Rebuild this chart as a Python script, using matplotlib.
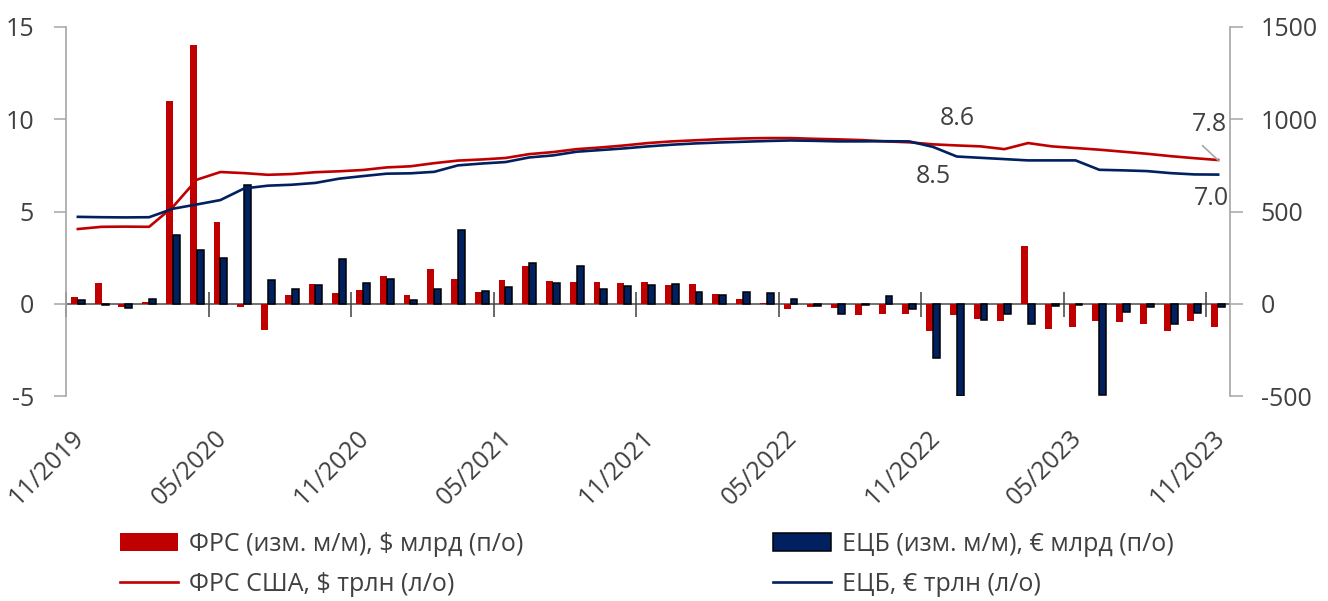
import matplotlib
matplotlib.use("Agg")
import matplotlib.pyplot as plt
import matplotlib.transforms as mtransforms
from matplotlib.patches import Patch
from matplotlib.lines import Line2D
import numpy as np

plt.rcParams['font.family'] = ['Open Sans', 'DejaVu Sans']
plt.rcParams['axes.unicode_minus'] = False

# ---- data ----
tick_labels = ["11/2019", "05/2020", "11/2020", "05/2021", "11/2021",
               "05/2022", "11/2022", "05/2023", "11/2023"]

fed_change = [38, 115, -18, 10, 1100, 1405, 445, -18, -140, 47,
              108, 58, 76, 152, 47, 190, 136, 65, 127, 204,
              123, 116, 119, 112, 116, 100, 108, 54, 25, 5,
              -30, -20, -25, -63, -54, -53, -148, -60, -81, -96,
              313, -139, -128, -96, -99, -108, -146, -96, -125]

ecb_change = [20, -5, -25, 25, 370, 290, 250, 645, 128, 81,
              99, 245, 110, 134, 22, 81, 400, 67, 92, 220,
              112, 206, 81, 96, 100, 105, 63, 49, 62, 60,
              27, -12, -56, -9, 42, -31, -296, -500, -88, -53,
              -108, -14, -9, -495, -47, -20, -108, -50, -16]

fed_total = [4.05, 4.17, 4.18, 4.17, 5.25, 6.72, 7.14, 7.08, 6.99, 7.03,
             7.13, 7.18, 7.25, 7.39, 7.45, 7.62, 7.76, 7.82, 7.90, 8.11,
             8.22, 8.38, 8.47, 8.58, 8.71, 8.80, 8.86, 8.92, 8.96, 8.98,
             8.98, 8.94, 8.91, 8.87, 8.80, 8.75, 8.64, 8.58, 8.53, 8.38,
             8.71, 8.53, 8.44, 8.35, 8.24, 8.13, 8.00, 7.89, 7.79]

ecb_total = [4.71, 4.69, 4.68, 4.69, 5.15, 5.38, 5.62, 6.25, 6.40, 6.45,
             6.55, 6.78, 6.92, 7.05, 7.07, 7.15, 7.50, 7.60, 7.68, 7.93,
             8.04, 8.24, 8.33, 8.42, 8.53, 8.62, 8.69, 8.74, 8.78, 8.82,
             8.85, 8.83, 8.80, 8.80, 8.81, 8.80, 8.50, 7.98, 7.91, 7.84,
             7.77, 7.77, 7.77, 7.26, 7.23, 7.19, 7.08, 7.01, 7.00]

label_every = 6

# ---- style ----
RED = "#C00000"
NAVY = "#002060"
TXT = "#404040"
GRID = "#A6A6A6"
FS = 18

n = len(fed_change)
x = np.arange(n)

fig = plt.figure(figsize=(13.28, 6.01), dpi=100)
ax = fig.add_axes([66 / 1328, 1 - 396 / 601, (1230 - 66) / 1328, (396 - 27) / 601])
ax2 = ax.twinx()

# bars on right axis
w = 0.29
ax.bar(x - w / 2, fed_change, width=w, color=RED, linewidth=0, zorder=2)
ax.bar(x + w / 2, ecb_change, width=w, color=NAVY, edgecolor="black",
       linewidth=1.1, zorder=2)
ax.set_ylim(-500, 1500)
ax.set_yticks([-500, 0, 500, 1000, 1500])
ax.set_xlim(-0.5, n - 0.5)

ax.yaxis.tick_right()
ax.tick_params(axis='y', which='both', direction='out', length=9, width=1.1,
               color=GRID, labelcolor=TXT, labelsize=FS, pad=13)
ax.spines['top'].set_visible(False)
for s in ['left', 'right']:
    ax.spines[s].set_color(GRID)
    ax.spines[s].set_linewidth(1.2)
ax.spines['bottom'].set_position(('data', 0))
ax.spines['bottom'].set_color("#595959")
ax.spines['bottom'].set_linewidth(1.2)
ax.spines['bottom'].set_zorder(1)

ax.set_xticks(np.arange(0, n, label_every) - 0.5)
ax.set_xticklabels([])
ax.tick_params(axis='x', direction='inout', length=18, width=1.1, color="#404040")

# lines on left axis
ax2.plot(x, fed_total, color=RED, linewidth=1.9, zorder=3)
ax2.plot(x, ecb_total, color=NAVY, linewidth=1.9, zorder=3)
ax2.set_ylim(-5, 15)
ax2.set_yticks([-5, 0, 5, 10, 15])
ax2.yaxis.tick_left()
ax2.yaxis.set_label_position('left')
ax2.tick_params(axis='y', direction='out', length=9, width=1.1,
                color=GRID, labelcolor=TXT, labelsize=FS, pad=14)
for s in ['top', 'bottom', 'left', 'right']:
    ax2.spines[s].set_visible(False)

# category labels along the bottom
trans = mtransforms.blended_transform_factory(ax.transData, ax.transAxes)
for k, lab in enumerate(tick_labels):
    ax.text(k * label_every - 0.25, -0.079, lab, transform=trans, rotation=45,
            ha='right', va='top', rotation_mode='anchor', fontsize=FS, color=TXT)

# value annotations
ax2.text(37.04, 10.03, "8.6", ha='center', va='center', fontsize=FS, color=TXT)
ax2.text(36.03, 6.88, "8.5", ha='center', va='center', fontsize=FS, color=TXT)
ax2.text(47.65, 9.70, "7.8", ha='center', va='center', fontsize=FS, color=TXT)
ax2.text(47.73, 5.69, "7.0", ha='center', va='center', fontsize=FS, color=TXT)
ax2.plot([47.35, 48.0], [8.56, 7.78], color=GRID, linewidth=1.2, zorder=4)

# legends
h_fed_bar = Patch(facecolor=RED, edgecolor=RED, linewidth=0)
h_fed_line = Line2D([], [], color=RED, linewidth=1.9)
h_ecb_bar = Patch(facecolor=NAVY, edgecolor="black", linewidth=1.1)
h_ecb_line = Line2D([], [], color=NAVY, linewidth=1.9)

common = dict(frameon=False, fontsize=FS, handlelength=2.3, handleheight=0.75,
              handletextpad=0.45, labelspacing=0.6, borderpad=0, borderaxespad=0,
              loc='upper left', labelcolor=TXT)
leg1 = fig.legend([h_fed_bar, h_fed_line],
                  ["ФРС (изм. м/м), $ млрд (п/о)", "ФРС США, $ трлн (л/о)"],
                  bbox_to_anchor=(120 / 1328, 1 - 532 / 601), **common)
leg2 = fig.legend([h_ecb_bar, h_ecb_line],
                  ["ЕЦБ (изм. м/м), € млрд (п/о)", "ЕЦБ, € трлн (л/о)"],
                  bbox_to_anchor=(773 / 1328, 1 - 532 / 601), **common)

fig.savefig("out.png", dpi=100)
